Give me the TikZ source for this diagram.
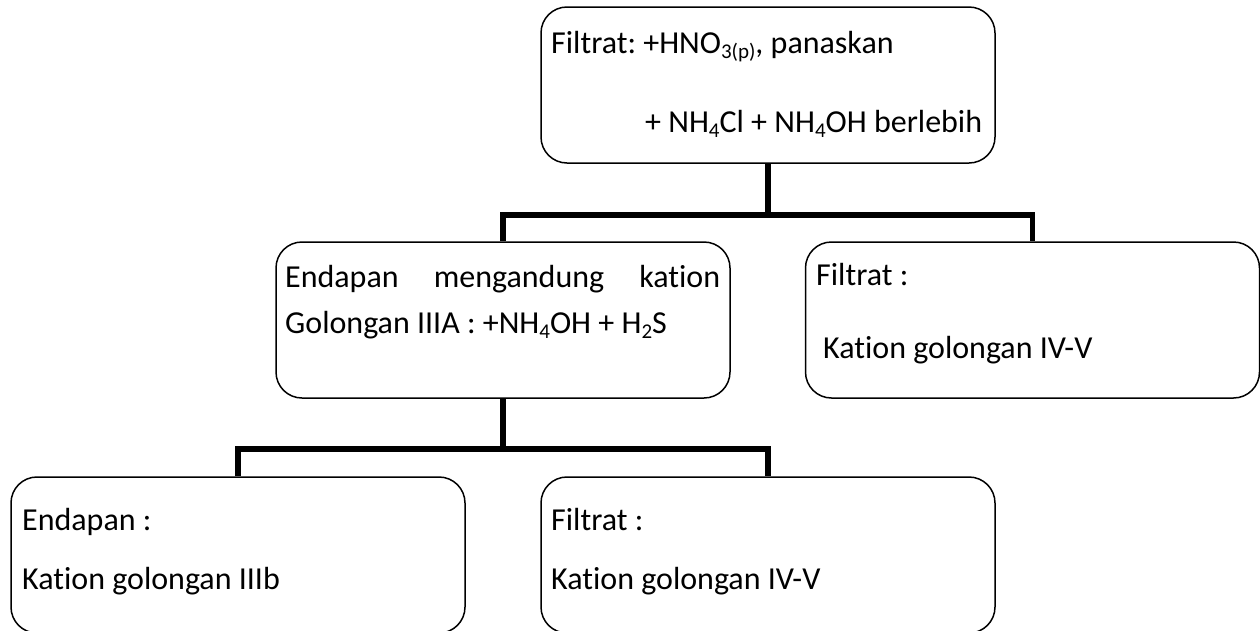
\documentclass[tikz,border=0pt]{standalone}
\usepackage{fontspec}
\setmainfont{Carlito}[Ligatures=NoCommon]
\frenchspacing
% lowered, smaller text for chemical subscripts
\newcommand\sbt[1]{\raisebox{-0.16em}{\fontsize{21}{21}\selectfont #1}}
\tikzset{
  box/.style={draw, line width=1.5pt, rounded corners=26pt,
    minimum width=454pt, minimum height=156pt, inner sep=0pt},
  txt/.style={anchor=base west, inner sep=0pt, font=\fontsize{32}{46}\selectfont},
  conn/.style={line width=5.5pt, line join=miter},
}
\begin{document}
\begin{tikzpicture}[x=1pt,y=-1pt]
\useasboundingbox (0,0) rectangle (1260,630);

% boxes
\node[box] (top) at (768,85) {};
\node[box] (ml) at (503,320) {};
\node[box] (mr) at (1032.5,320) {};
\node[box] (bl) at (238,555) {};
\node[box] (br) at (768,555) {};

% texts
\node[txt] (t1a) at (551,53) {Filtrat: +HNO\sbt{3(p)}, panaskan};
\node[txt] (t1b) at (645,132) {+ NH\sbt{4}Cl + NH\sbt{4}OH berlebih};
\node[txt] (t2a) at (285,287) {\makebox[435pt][s]{Endapan mengandung kation}};
\node[txt] (t2b) at (285,333) {Golongan IIIA : +NH\sbt{4}OH + H\sbt{2}S};
\node[txt] (t3a) at (816,285) {Filtrat :};
\node[txt] (t3b) at (823,358) {Kation golongan IV-V};
\node[txt] (t4a) at (22,530) {Endapan :};
\node[txt] (t4b) at (22,589) {Kation golongan IIIb};
\node[txt] (t5a) at (551,530) {Filtrat :};
\node[txt] (t5b) at (551,589) {Kation golongan IV-V};

% connectors
\coordinate (j1) at (768,215);
\coordinate (j2) at (503,449);
\draw[conn] (top.south) -- (j1);
\draw[conn] (ml.north) |- (j1) -| (mr.north);
\draw[conn] (ml.south) -- (j2);
\draw[conn] (bl.north) |- (j2) -| (br.north);
\end{tikzpicture}
\end{document}
